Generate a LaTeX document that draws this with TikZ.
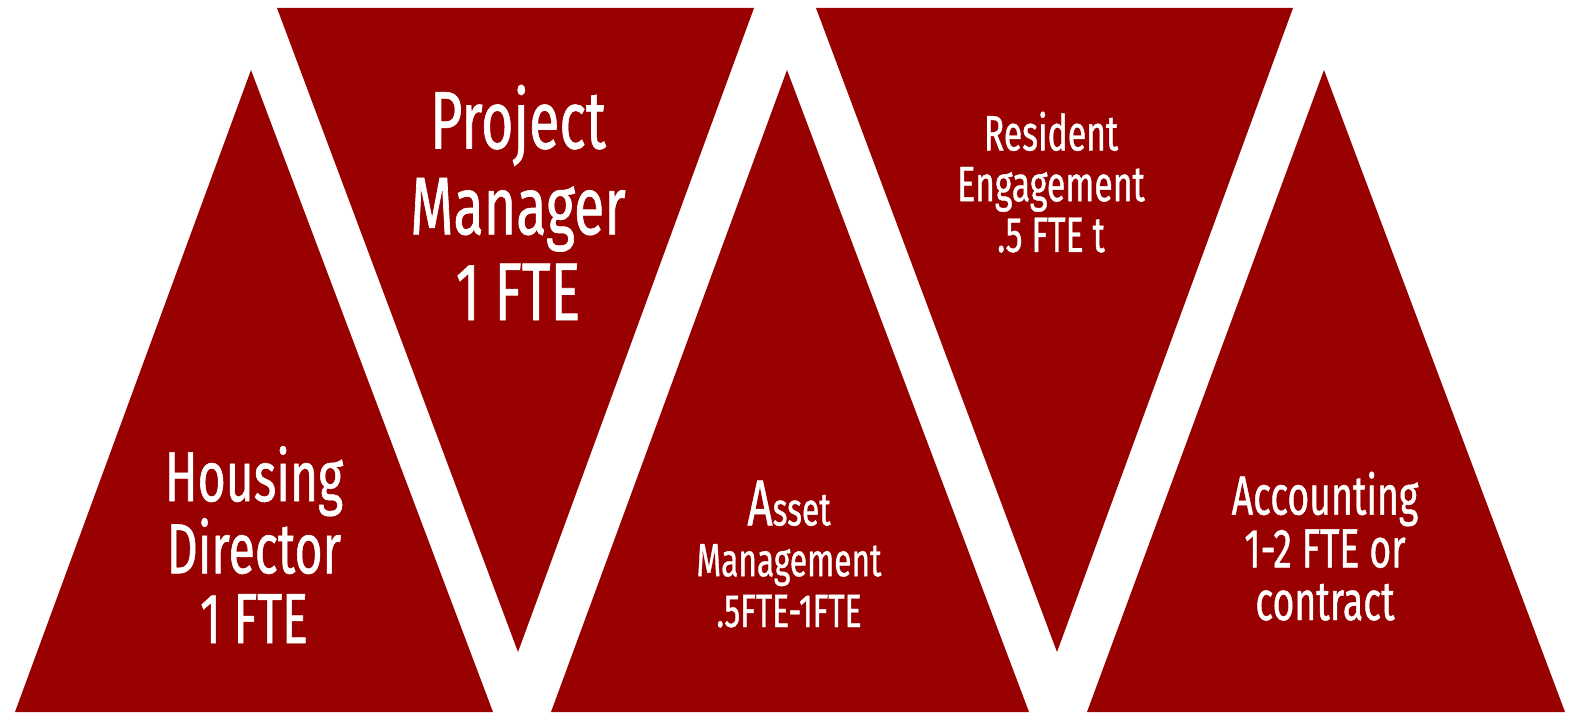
\documentclass[tikz,border=0pt]{standalone}
\usepackage{fontspec}
\setmainfont{Fira Sans}[FakeStretch=0.68, FakeBold=0.8]
\definecolor{wedgered}{HTML}{990000}
\tikzset{
  wedge/.style={fill=wedgered},
  label/.style={text=white, align=center, anchor=base, inner sep=0pt},
}
\newcommand{\fsz}[2]{\fontsize{#1}{#2}\selectfont}
\begin{document}
\begin{tikzpicture}[x=0.02cm, y=-0.02cm]
  \useasboundingbox (0,0) rectangle (1575,716);

  \fill[wedge] (15,712) -- (251,70) -- (493,712) -- cycle;
  \fill[wedge] (277,8) -- (754,8) -- (518,652) -- cycle;
  \fill[wedge] (551,712) -- (787,70) -- (1029,712) -- cycle;
  \fill[wedge] (816,8) -- (1293,8) -- (1057,652) -- cycle;
  \fill[wedge] (1087,712) -- (1324,70) -- (1565,712) -- cycle;

  % anchor=base sits on the last line
  \node[label, font=\fsz{40.3}{39.7}] (housing) at (254,643) {Housing\\Director\\1 FTE};
  \node[label, font=\fsz{46.5}{48.8}] (project) at (518,320) {Project\\Manager\\1 FTE};
  \node[label, font=\fsz{26.5}{28.9}] (asset) at (789,627) {{\fsz{37}{28.9}A}sset\\Management\\.5FTE-1FTE};
  \node[label, font=\fsz{28.3}{28.9}] (resident) at (1051,252) {Resident\\Engagement\\.5 FTE t};
  \node[label, font=\fsz{31.3}{30}] (accounting) at (1325,620) {Accounting\\1-2 FTE or\\contract};
\end{tikzpicture}
\end{document}
